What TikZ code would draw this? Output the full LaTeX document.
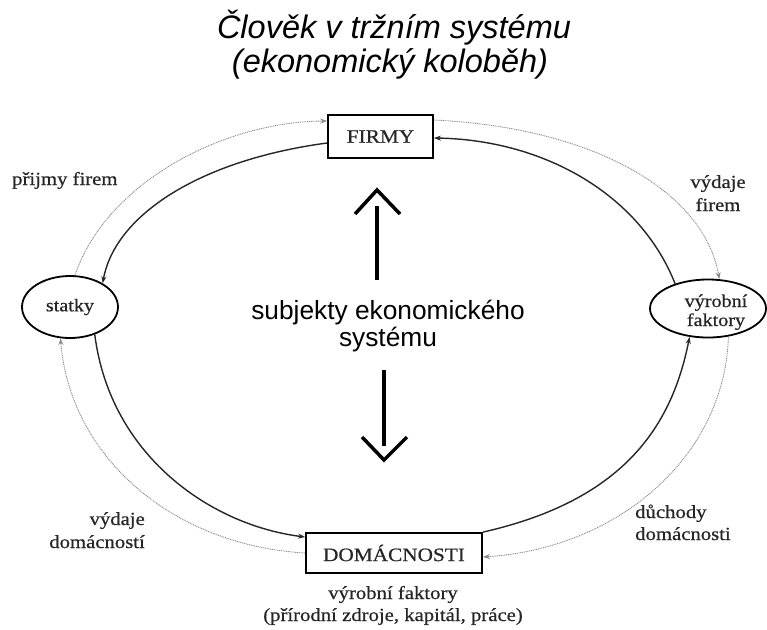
\documentclass[tikz,border=0pt]{standalone}
\usepackage{fontspec}
\setmainfont{Liberation Serif}
\newfontfamily\labfont[FakeStretch=1.12,FakeBold=0.6]{Liberation Serif}
\newfontfamily\sansfont{Liberation Sans}
\usetikzlibrary{arrows.meta,shapes.geometric}
\tikzset{
  lab/.style={font=\labfont\fontsize{18.5}{22}\selectfont, text=black!85, inner sep=0pt},
  boxnode/.style={draw, line width=1.8pt, rectangle, inner sep=0pt, font=\labfont\fontsize{19}{22}\selectfont, text=black!85},
  ellnode/.style={draw, line width=1.8pt, ellipse, inner sep=0pt, align=center, font=\labfont\fontsize{18}{20}\selectfont, text=black!85},
  flow/.style={line width=1.4pt, draw=black!85, -{Stealth[length=7pt,width=5pt]}},
  money/.style={line width=0.9pt, draw=black!45, dash pattern=on 1pt off 0.8pt, -{Stealth[length=7pt,width=5pt,fill=black!80]}},
  bigarrow/.style={line width=3.5pt, black},
  titlefont/.style={font=\sansfont\itshape\fontsize{32.5}{36}\selectfont, inner sep=0pt},
  centerfont/.style={font=\sansfont\fontsize{26.3}{28}\selectfont, inner sep=0pt}
}
\begin{document}
\begin{tikzpicture}[x=1pt,y=-1pt]
\useasboundingbox (0,0) rectangle (767,629);
% title
\node[titlefont, anchor=base] (t1) at (394,38) {Člověk v tržním systému};
\node[titlefont, anchor=base] (t2) at (390,72) {(ekonomický koloběh)};
% main nodes
\node[boxnode, minimum width=105, minimum height=43] (firmy) at (380.5,136.5) {FIRMY};
\node[boxnode, minimum width=176, minimum height=40] (dom) at (394,553) {DOMÁCNOSTI};
\node[ellnode, minimum width=96, minimum height=62] (statky) at (70,307) {statky};
\node[ellnode, minimum width=116, minimum height=58] (vf) at (708,308.5) {};
\node[lab, font=\labfont\fontsize{18}{20}\selectfont, anchor=base, align=center] (vft) at (716,326) {výrobní\\[-1pt]faktory};
% center text
\node[centerfont, anchor=base] (s1) at (388,319) {subjekty ekonomického};
\node[centerfont, anchor=base] (s2) at (388,346) {systému};
% big arrows
\draw[bigarrow] (377,280) -- (377,206);
\draw[bigarrow, line join=miter] (355,214) -- (377,190) -- (400,214);
\draw[bigarrow] (384,370) -- (384,446);
\draw[bigarrow, line join=miter] (362,437) -- (384,460) -- (407,437);
% flows
\draw[flow] ([yshift=-6.5pt]firmy.west) .. controls (200,160) and (115,215) .. (statky.36);
\draw[money] (statky.81) .. controls (105,185) and (220,122) .. ([yshift=15.5pt]firmy.west);
\draw[flow] (vf.143) .. controls (640,195) and (545,140) .. ([yshift=-1.5pt]firmy.east);
\draw[money] ([yshift=16.5pt]firmy.east) .. controls (600,128) and (705,195) .. (vf.69);
\draw[flow] (statky.-48) .. controls (110,455) and (210,525) .. ([yshift=16pt]dom.west);
\draw[money] (dom.west) .. controls (170,545) and (70,455) .. (statky.253);
\draw[flow] (dom.north east) .. controls (625,500) and (672,425) .. (vf.237);
\draw[money] (vf.-54) .. controls (725,455) and (620,548) .. ([yshift=-4pt]dom.east);
% labels (anchor=base is the baseline of the last line)
\node[lab, anchor=base west] (l1) at (12,185) {přijmy firem};
\node[lab, anchor=base, align=center] (l2) at (718,211) {výdaje\\[1pt]firem};
\node[lab, anchor=base east, align=right] (l3) at (145,548) {výdaje\\[1pt]domácností};
\node[lab, anchor=base west, align=left] (l4) at (635,540) {důchody\\[0pt]domácnosti};
\node[lab, anchor=base, align=center] (l5) at (393,621) {výrobní faktory\\[0pt](přírodní zdroje, kapitál, práce)};
\end{tikzpicture}
\end{document}
